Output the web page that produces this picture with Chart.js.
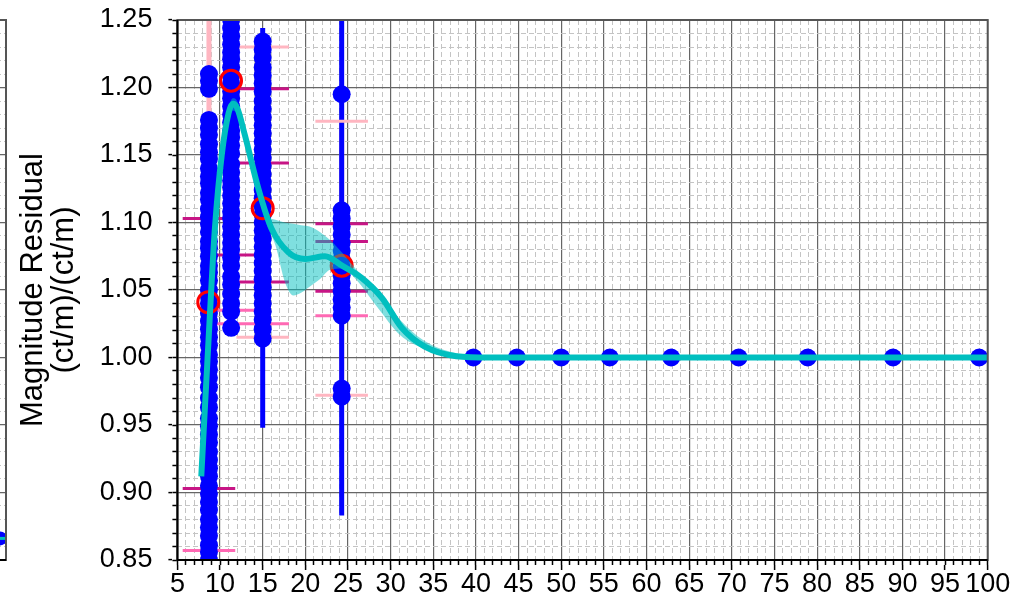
<!DOCTYPE html>
<html>
<head>
<meta charset="utf-8">
<script src="https://cdn.jsdelivr.net/npm/chart.js@4.4.1/dist/chart.umd.min.js"></script>
<style>
html, body { margin: 0; padding: 0; background: #fff; overflow: hidden; }
#wrap { position: relative; width: 1029px; height: 605px; overflow: hidden; }
#side { position: absolute; left: -387px; top: 0; }
#main { position: absolute; left: 0; top: 0; }
</style>
</head>
<body>
<div id="wrap">
<canvas id="side" width="400" height="605"></canvas>
<canvas id="main" width="1029" height="605"></canvas>
</div>
<script>
// ---- data ----
var xTickStep = 5;
var yTickStep = 0.05;
var yTitle = ['Magnitude Residual', '(ct/m)/(ct/m)'];

// stacked residual columns
var colX = [8.7, 11.3, 15.0, 24.26];
var colA = [1.210, 1.205, 1.199,
  1.176, 1.170, 1.165, 1.158, 1.152, 1.147, 1.140, 1.134, 1.129, 1.122, 1.117, 1.110,
  1.104, 1.099, 1.093, 1.086, 1.081, 1.075, 1.068, 1.063, 1.057, 1.050, 1.045, 1.040,
  1.033, 1.027, 1.021, 1.015, 1.009, 1.002, 0.997, 0.991, 0.985, 0.978, 0.970, 0.963,
  0.955, 0.949, 0.943, 0.937, 0.930, 0.924, 0.918, 0.912, 0.905, 0.899, 0.893, 0.887,
  0.880, 0.874, 0.868, 0.861, 0.856, 0.850, 0.845];
var colB = [1.262, 1.256, 1.250, 1.244, 1.238, 1.232, 1.226, 1.221, 1.215, 1.209, 1.203,
  1.197, 1.192, 1.186, 1.180, 1.174, 1.168, 1.163, 1.157, 1.151, 1.143, 1.137, 1.131,
  1.126, 1.120, 1.114, 1.108, 1.103, 1.097, 1.091, 1.085, 1.080, 1.074, 1.068, 1.060,
  1.054, 1.047, 1.040, 1.034, 1.022];
var colC = [1.234, 1.228, 1.222, 1.215, 1.209, 1.203, 1.197, 1.190, 1.184, 1.178, 1.172,
  1.166, 1.160, 1.154, 1.148, 1.142, 1.136, 1.130, 1.124, 1.118, 1.112, 1.106, 1.100,
  1.094, 1.088, 1.082, 1.076, 1.070, 1.064, 1.058, 1.052, 1.046, 1.040, 1.034, 1.028,
  1.021, 1.014];
var colD = [1.195, 1.109, 1.103, 1.097, 1.091, 1.085, 1.079, 1.073, 1.067, 1.061, 1.055,
  1.049, 1.043, 1.037, 1.031, 0.977, 0.971];

// points sitting on 1.00
var flatX = [39.7, 44.8, 50.0, 55.7, 62.9, 70.8, 78.9, 88.9, 99.0];
var flatY = [1.0, 1.0, 1.0, 1.0, 1.0, 1.0, 1.0, 1.0, 1.0];

// means (red rings)
var meanX = [8.62, 11.29, 15.0, 24.26];
var meanY = [1.041, 1.205, 1.1105, 1.068];

// blue error bars
var errX = [15.0, 24.26];
var errLo = [0.948, 0.883];
var errHi = [1.244, 1.26];

// pink whisker stems
var whiskX = [8.7, 24.26];
var whiskLo = [0.857, 0.972];
var whiskHi = [1.26, 1.175];

// quantile caps
var capLightX = [15.0, 15.0, 24.26, 24.26];
var capLightY = [1.230, 1.015, 1.175, 0.972];
var capHotX = [8.7, 11.3, 11.3, 15.0, 24.26];
var capHotY = [0.857, 1.035, 1.025, 1.025, 1.031];
var capMagX = [8.7, 8.7, 11.3, 15.0, 15.0, 15.0, 24.26, 24.26, 24.26];
var capMagY = [1.103, 0.903, 1.076, 1.199, 1.144, 1.056, 1.099, 1.086, 1.049];

// fitted curve and its band
var lineX = [7.8, 9.0, 9.4, 10.2, 11.0, 11.5, 12.0, 12.9, 14.5, 16.0, 18.0, 20.0, 22.3,
  24.3, 26.6, 29.0, 31.3, 34.0, 37.7, 41.6, 100];
var lineY = [0.912, 1.054, 1.096, 1.150, 1.181, 1.188, 1.185, 1.165, 1.125, 1.096, 1.078,
  1.073, 1.075, 1.068, 1.059, 1.044, 1.022, 1.008, 1.001, 1.000, 1.000];
var bandX = [7.8, 9.0, 10.2, 11.0, 11.5, 12.0, 12.9, 14.5, 15.5, 16.5, 17.6, 18.6, 19.5,
  20.5, 21.7, 22.9, 24.4, 26.0, 28.4, 31.1, 33.8, 37.0, 41.6, 100];
var bandHi = [0.914, 1.057, 1.153, 1.184, 1.192, 1.190, 1.170, 1.130, 1.106, 1.102, 1.100,
  1.099, 1.098, 1.097, 1.093, 1.087, 1.077, 1.065, 1.050, 1.028, 1.013, 1.0043, 1.0006, 1.0006];
var bandLo = [0.910, 1.051, 1.147, 1.178, 1.183, 1.180, 1.160, 1.120, 1.098, 1.083, 1.056,
  1.046, 1.048, 1.0525, 1.058, 1.065, 1.066, 1.0574, 1.0376, 1.0167, 1.0068, 1.001, 0.9994, 0.9994];

// neighbouring panel (only its right edge shows)
var sideX = [98.5];
var sideY = [0.866];
var sideLineX = [94, 100];
var sideLineY = [0.866, 0.866];

// ---- style ----
var BLUE = '#0000ff', RED = '#ff0000', CYAN = '#00bfbf', BAND = 'rgba(0,191,191,0.5)';
var LPINK = '#ffb6c1', HPINK = '#ff69b4', MAG = '#c71585';
var MAJOR = '#666666', MINOR = '#c4c4c4';
var CAP_HALF = 3.08;

Chart.defaults.font.family = "'Liberation Sans', Arial, sans-serif";
Chart.defaults.color = '#000';

function pts(xs, ys) {
    var out = [];
    for (var i = 0; i < xs.length; i++) out.push({x: xs[i], y: ys[i]});
    return out;
}
function column(x, ys) {
    return ys.map(function (y) { return {x: x, y: y}; });
}
function hSegs(xs, ys) {
    var out = [];
    for (var i = 0; i < xs.length; i++) {
        out.push({x: xs[i] - CAP_HALF, y: ys[i]}, {x: xs[i] + CAP_HALF, y: ys[i]}, {x: xs[i], y: null});
    }
    return out;
}
function vSegs(xs, lo, hi) {
    var out = [];
    for (var i = 0; i < xs.length; i++) {
        out.push({x: xs[i], y: lo[i]}, {x: xs[i], y: hi[i]}, {x: xs[i], y: null});
    }
    return out;
}
function isMultiple(v, step) {
    var r = v / step;
    return Math.abs(r - Math.round(r)) < 1e-6;
}
function segLine(data, color, width, order) {
    return {
        type: 'line', data: data, borderColor: color, borderWidth: width,
        pointRadius: 0, fill: false, spanGaps: false, tension: 0, order: order
    };
}
// keep the label overhang from pushing the plot area around
function noOverhang(s) {
    s.paddingTop = 0; s.paddingBottom = 0; s.paddingLeft = 0; s.paddingRight = 0;
}

var dots = column(colX[0], colA)
    .concat(column(colX[1], colB))
    .concat(column(colX[2], colC))
    .concat(column(colX[3], colD))
    .concat(pts(flatX, flatY));

var framePlugin = {
    id: 'frame',
    afterDraw: function (chart) {
        var a = chart.chartArea, ctx = chart.ctx;
        ctx.save();
        ctx.lineWidth = 2;
        ctx.strokeStyle = '#555';
        ctx.strokeRect(a.left, a.top, a.right - a.left, a.bottom - a.top);
        ctx.strokeStyle = '#000';
        ctx.beginPath();
        ctx.moveTo(a.left, a.top);
        ctx.lineTo(a.left, a.bottom);
        ctx.lineTo(a.right, a.bottom);
        ctx.stroke();
        ctx.restore();
    }
};

function minorGrid(step) {
    return {
        color: function (c) { return (c.tick && isMultiple(c.tick.value, step)) ? 'rgba(0,0,0,0)' : MINOR; },
        lineWidth: 1, tickLength: 5, tickColor: '#000', tickWidth: 1.5
    };
}

var mainChart = new Chart(document.getElementById('main'), {
    type: 'scatter',
    data: {
        datasets: [
            {
                type: 'line', label: 'fit', data: pts(lineX, lineY),
                borderColor: CYAN, borderWidth: 6, pointRadius: 0, fill: false,
                cubicInterpolationMode: 'monotone', order: 3
            },
            {
                type: 'line', label: 'band hi', data: pts(bandX, bandHi),
                borderColor: 'rgba(0,0,0,0)', borderWidth: 0, pointRadius: 0,
                backgroundColor: BAND, fill: '+1', cubicInterpolationMode: 'monotone', order: 4
            },
            {
                type: 'line', label: 'band lo', data: pts(bandX, bandLo),
                borderColor: 'rgba(0,0,0,0)', borderWidth: 0, pointRadius: 0,
                fill: false, cubicInterpolationMode: 'monotone', order: 4
            },
            {
                label: 'mean', data: pts(meanX, meanY),
                pointRadius: 10.5, pointBorderWidth: 3, pointBorderColor: RED,
                pointBackgroundColor: 'rgba(0,0,0,0)', order: 5
            },
            {
                label: 'residual', data: dots,
                pointRadius: 9, pointBorderWidth: 0, pointBackgroundColor: BLUE, order: 6
            },
            segLine(hSegs(capMagX, capMagY), MAG, 3, 7),
            segLine(hSegs(capHotX, capHotY), HPINK, 3, 7),
            segLine(hSegs(capLightX, capLightY), LPINK, 3, 7),
            segLine(vSegs(errX, errLo, errHi), BLUE, 5, 8),
            segLine(vSegs(whiskX, whiskLo, whiskHi), LPINK, 5, 9)
        ]
    },
    options: {
        responsive: false,
        animation: false,
        devicePixelRatio: 1,
        layout: { padding: { left: 0, right: 41.3, top: 20, bottom: 0 } },
        plugins: { legend: { display: false }, tooltip: { enabled: false } },
        scales: {
            x: {
                type: 'linear', position: 'bottom', weight: 1, min: 5, max: 100,
                ticks: {
                    stepSize: xTickStep, autoSkip: false, maxRotation: 0, padding: 1,
                    font: { size: 27, lineHeight: 1 }, color: '#000'
                },
                grid: { color: MAJOR, lineWidth: 1.2, tickLength: 5, tickColor: '#000', tickWidth: 1.5 },
                border: { display: false },
                afterFit: function (s) { s.height = 40; noOverhang(s); }
            },
            xMinor: {
                type: 'linear', position: 'bottom', weight: 0, min: 5, max: 100,
                ticks: { display: false, stepSize: 1, autoSkip: false, maxTicksLimit: 200 },
                grid: minorGrid(xTickStep),
                border: { display: false, dash: [5, 3] },
                afterFit: function (s) { s.height = 5; noOverhang(s); }
            },
            y: {
                type: 'linear', position: 'left', weight: 1, min: 0.85, max: 1.25,
                ticks: {
                    stepSize: yTickStep, padding: 16, font: { size: 27, lineHeight: 1 }, color: '#000',
                    callback: function (v) { return v.toFixed(2); }
                },
                grid: { color: MAJOR, lineWidth: 1.2, tickLength: 4, tickColor: '#000', tickWidth: 1.5 },
                border: { display: false },
                title: {
                    display: true, text: yTitle, color: '#000',
                    font: { size: 31, lineHeight: 1 }, padding: { top: 18, bottom: 0 }
                },
                afterFit: function (s) { s.width = 172.4; noOverhang(s); }
            },
            yMinor: {
                type: 'linear', position: 'left', weight: 0, min: 0.85, max: 1.25,
                ticks: { display: false, stepSize: 0.01, maxTicksLimit: 200 },
                grid: minorGrid(yTickStep),
                border: { display: false, dash: [5, 3] },
                afterFit: function (s) { s.width = 5; noOverhang(s); }
            }
        }
    },
    plugins: [framePlugin]
});

// neighbouring panel, mostly off-page
var legendBoxPlugin = {
    id: 'legendBox',
    afterDatasetsDraw: function (chart) {
        var a = chart.chartArea, ctx = chart.ctx;
        ctx.save();
        ctx.fillStyle = '#fff';
        ctx.strokeStyle = '#bbbbbb';
        ctx.lineWidth = 1.5;
        ctx.beginPath();
        ctx.rect(a.right - 200, a.top + 10, 192, 155);
        ctx.fill();
        ctx.stroke();
        ctx.restore();
    }
};

var sideChart = new Chart(document.getElementById('side'), {
    type: 'scatter',
    data: {
        datasets: [
            {
                type: 'line', data: pts(sideLineX, sideLineY), borderColor: CYAN,
                borderWidth: 3, pointRadius: 0, fill: false, order: 1
            },
            {
                data: pts(sideX, sideY), pointRadius: 7, pointBorderWidth: 0,
                pointBackgroundColor: BLUE, order: 2
            }
        ]
    },
    options: {
        responsive: false,
        animation: false,
        devicePixelRatio: 1,
        layout: { padding: { left: 0, right: 1, top: 20, bottom: 45 } },
        plugins: { legend: { display: false }, tooltip: { enabled: false } },
        scales: {
            x: { type: 'linear', display: false, min: 0, max: 100 },
            y: {
                type: 'linear', position: 'left', min: 0.85, max: 1.25,
                ticks: { display: false, stepSize: yTickStep },
                grid: { color: MAJOR, lineWidth: 1.2, drawTicks: false },
                border: { display: false },
                afterFit: noOverhang
            },
            yMinor: {
                type: 'linear', position: 'left', min: 0.85, max: 1.25,
                ticks: { display: false, stepSize: 0.01, maxTicksLimit: 200 },
                grid: {
                    color: function (c) { return (c.tick && isMultiple(c.tick.value, yTickStep)) ? 'rgba(0,0,0,0)' : MINOR; },
                    lineWidth: 1, drawTicks: false
                },
                border: { display: false, dash: [5, 3] },
                afterFit: noOverhang
            }
        }
    },
    plugins: [legendBoxPlugin, framePlugin]
});
</script>
</body>
</html>
